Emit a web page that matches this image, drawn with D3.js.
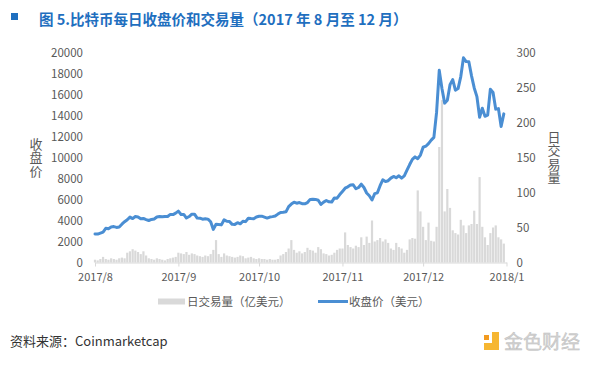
<!DOCTYPE html>
<html>
<head>
<meta charset="utf-8">
<script src="https://cdn.jsdelivr.net/npm/d3@7"></script>
<style>
  body { margin: 0; background: #fff; }
  text { font-family: "Noto Sans CJK SC", "Noto Sans", sans-serif; }
</style>
</head>
<body>
<div id="chart"></div>
<script>
// month starts used for the axis ticks
var monthTicks = ["2017-08-01", "2017-09-01", "2017-10-01", "2017-11-01", "2017-12-01", "2018-01-01"];
var monthLabels = ["2017/8", "2017/9", "2017/10", "2017/11", "2017/12", "2018/1"];

// daily close (USD), one array per month
var closeAug = [2718, 2710, 2805, 2895, 3252, 3213, 3378, 3419, 3342, 3381, 3650, 3884, 4073, 4325, 4181, 4376,
                4331, 4160, 4193, 4087, 4001, 4100, 4151, 4334, 4371, 4352, 4382, 4382, 4579, 4565, 4703];
var closeSep = [4892, 4578, 4582, 4236, 4376, 4597, 4599, 4228, 4226, 4122, 4161, 4130, 3882, 3154, 3637, 3625,
                3582, 4065, 3925, 3905, 3631, 3630, 3792, 3682, 3926, 3892, 4208, 4185, 4174, 4338];
var closeOct = [4403, 4409, 4318, 4229, 4328, 4370, 4426, 4610, 4772, 4781, 4826, 5325, 5563, 5739, 5647, 5711,
                5603, 5590, 5708, 6011, 6031, 6008, 5930, 5526, 5750, 5904, 5780, 5753, 6153, 6130, 6468];
var closeNov = [6767, 7078, 7207, 7379, 7407, 7022, 7144, 7459, 7143, 6618, 6357, 5950, 6559, 6635, 7315, 7871,
                7708, 7790, 8036, 8200, 8071, 8253, 8038, 8253, 8791, 9330, 9819, 10058, 9888, 10233];
var closeDec = [10975, 11075, 11323, 11657, 11916, 14291, 18300, 16570, 15178, 15455, 16937, 17415, 16408, 16564,
                17706, 19497, 19140, 19114, 17776, 16624, 15802, 13831, 14699, 13926, 14027, 16500, 16200, 14606,
                14656, 12952, 14156];

// daily volume (亿美元), one array per month
var volAug = [4, 3, 5, 8, 5, 4, 6, 5, 4, 6, 7, 6, 14, 16, 19, 17, 15, 12, 16, 10, 6, 5, 4, 6, 5, 4, 3, 5, 6, 7, 8];
var volSep = [14, 13, 12, 15, 11, 13, 12, 10, 9, 8, 10, 9, 12, 18, 32, 12, 8, 13, 10, 9, 8, 7, 8, 10, 9, 6, 7, 8, 6, 5];
var volOct = [6, 5, 5, 4, 5, 4, 4, 5, 10, 12, 15, 20, 32, 18, 14, 16, 13, 15, 21, 18, 17, 14, 22, 19, 13, 12, 10,
              11, 14, 18, 20];
var volNov = [20, 43, 25, 22, 20, 24, 22, 36, 25, 37, 28, 60, 30, 32, 35, 30, 33, 28, 20, 18, 28, 22, 20, 14, 18,
              33, 35, 34, 103, 73];
var volDec = [51, 32, 57, 31, 30, 51, 165, 232, 73, 105, 78, 46, 42, 40, 61, 53, 42, 53, 55, 74, 55, 122, 51, 36,
              25, 42, 50, 53, 36, 33, 27];

var leftTicks = [0, 2000, 4000, 6000, 8000, 10000, 12000, 14000, 16000, 18000, 20000];
var rightTicks = [0, 50, 100, 150, 200, 250, 300];

var W = 600, H = 366;
var blue = "#4a8ed3", grey = "#d9d9d9", tickColor = "#595959";

// join months into one daily list
var closes = closeAug.concat(closeSep, closeOct, closeNov, closeDec);
var vols = volAug.concat(volSep, volOct, volNov, volDec);
var parse = d3.timeParse("%Y-%m-%d");
var start = parse("2017-08-01");
var days = closes.map(function (c, i) {
    return { date: d3.timeDay.offset(start, i), close: c, vol: vols[i] };
});

var svg = d3.select("#chart").append("svg")
    .attr("width", W)
    .attr("height", H);
svg.append("rect").attr("width", W).attr("height", H).attr("fill", "#fff");

var x = d3.scaleTime()
    .domain([start, parse("2018-01-01")])
    .range([95, 506.5]);
var yL = d3.scaleLinear().domain([0, 20000]).range([262.5, 52.5]);
var yR = d3.scaleLinear().domain([0, 300]).range([262.5, 52.5]);

/** title **/
svg.append("rect").attr("x", 11).attr("y", 13).attr("width", 7).attr("height", 7).attr("fill", "#1f6fbf");
svg.append("text")
    .attr("x", 39).attr("y", 25)
    .attr("fill", "#1f6fbf")
    .attr("font-size", "14.5px")
    .attr("font-weight", "bold")
    .text("图 5.比特币每日收盘价和交易量（2017 年 8 月至 12 月）");

/** volume bars **/
var bw = 2.2;
svg.append("g").selectAll("rect")
    .data(days)
    .enter().append("rect")
    .attr("x", function (d) { return x(d.date) - bw / 2; })
    .attr("y", function (d) { return yR(d.vol); })
    .attr("width", bw)
    .attr("height", function (d) { return yR(0) - yR(d.vol); })
    .attr("fill", grey);

/** x axis **/
var xAxis = d3.axisBottom(x)
    .tickValues(monthTicks.map(parse))
    .tickFormat(function (d, i) { return monthLabels[i]; })
    .tickSize(4)
    .tickSizeOuter(0)
    .tickPadding(7);
var gx = svg.append("g").attr("transform", "translate(0," + yL(0) + ")").call(xAxis);
gx.select(".domain").attr("stroke", grey);
gx.selectAll(".tick line").attr("stroke", grey);
gx.selectAll(".tick text").attr("fill", tickColor).attr("font-size", "11px")
    .style("font-family", "'Noto Sans CJK SC', sans-serif");

/** close line **/
var line = d3.line()
    .x(function (d) { return x(d.date); })
    .y(function (d) { return yL(d.close); });
svg.append("path")
    .datum(days)
    .attr("d", line)
    .attr("fill", "none")
    .attr("stroke", blue)
    .attr("stroke-width", 3)
    .attr("stroke-linejoin", "round")
    .attr("stroke-linecap", "round");

/** y axes **/
var gl = svg.append("g").attr("transform", "translate(95,0)")
    .call(d3.axisLeft(yL).tickValues(leftTicks).tickFormat(d3.format("d")).tickSize(0).tickPadding(12));
var gr = svg.append("g").attr("transform", "translate(506.5,0)")
    .call(d3.axisRight(yR).tickValues(rightTicks).tickFormat(d3.format("d")).tickSize(0).tickPadding(10));
[gl, gr].forEach(function (g) {
    g.select(".domain").remove();
    g.selectAll(".tick text").attr("fill", tickColor).attr("font-size", "11.5px")
        .style("font-family", "'Noto Sans CJK SC', sans-serif");
});

// vertical axis titles (top-to-bottom writing)
function vTitle(label, cx, cy) {
    svg.append("text")
        .attr("x", cx).attr("y", cy)
        .attr("fill", tickColor)
        .attr("font-size", "13px")
        .attr("letter-spacing", "0.5px")
        .attr("text-anchor", "middle")
        .style("writing-mode", "vertical-rl")
        .text(label);
}
vTitle("收盘价", 36, 157.5);
vTitle("日交易量", 554, 157.5);

/** legend **/
svg.append("rect").attr("x", 158).attr("y", 298.5).attr("width", 27).attr("height", 6).attr("fill", grey);
svg.append("text").attr("x", 187).attr("y", 301.5).attr("dy", "0.35em")
    .attr("fill", tickColor).attr("font-size", "11.5px").text("日交易量（亿美元）");
svg.append("line").attr("x1", 318).attr("x2", 348).attr("y1", 301.5).attr("y2", 301.5)
    .attr("stroke", blue).attr("stroke-width", 3);
svg.append("text").attr("x", 349).attr("y", 301.5).attr("dy", "0.35em")
    .attr("fill", tickColor).attr("font-size", "11.5px").text("收盘价（美元）");

/** source + logo **/
svg.append("text").attr("x", 10).attr("y", 346)
    .attr("fill", "#333").attr("font-size", "13px").text("资料来源：Coinmarketcap");

var logo = svg.append("g");
logo.append("rect").attr("x", 484).attr("y", 335).attr("width", 5).attr("height", 5).attr("fill", "#f29a1f");
logo.append("rect").attr("x", 492).attr("y", 332).attr("width", 7).attr("height", 18).attr("fill", "#f6b631");
logo.append("rect").attr("x", 484).attr("y", 343).attr("width", 15).attr("height", 7).attr("fill", "#f6b631");
logo.append("text").attr("x", 504).attr("y", 348.5)
    .attr("fill", "#d2d2d2").attr("stroke", "#bdbdbd").attr("stroke-width", 0.4)
    .attr("font-size", "19px").text("金色财经");
</script>
</body>
</html>
